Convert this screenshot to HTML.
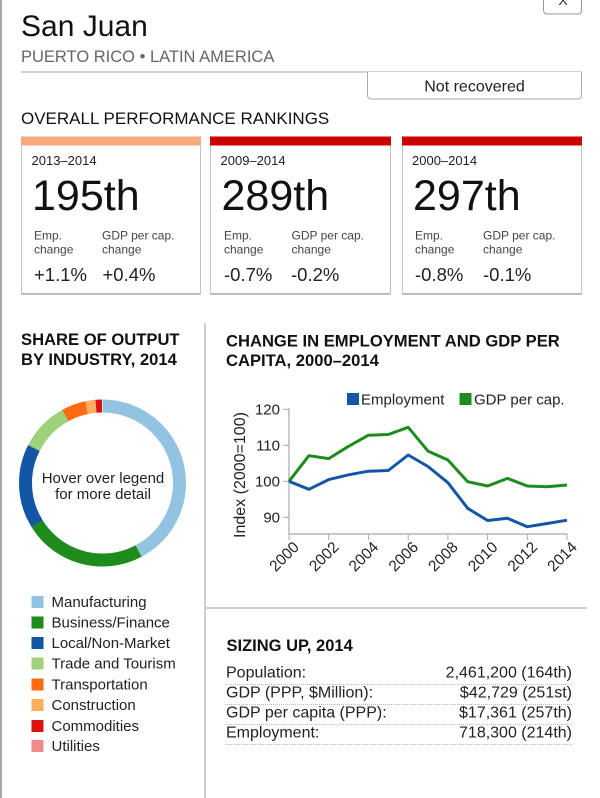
<!DOCTYPE html>
<html>
<head>
<meta charset="utf-8">
<style>
  html, body { margin:0; padding:0; background:#fff; }
  body { width:600px; height:798px; overflow:hidden; }
  svg { display:block; font-family:"Liberation Sans", Arial, sans-serif; }
</style>
</head>
<body>
<svg width="600" height="798" viewBox="0 0 600 798" xmlns="http://www.w3.org/2000/svg">
  <rect x="0" y="0" width="600" height="798" fill="#fff"/>
  <!-- left border -->
  <rect x="0" y="0" width="2" height="798" fill="#a8a8a8"/>

  <!-- close button -->
  <path d="M543.5,-2 V10 Q543.5,14 547.5,14 H577.5 Q581.5,14 581.5,10 V-2" fill="#fff" stroke="#999" stroke-width="1"/>
  <text x="563" y="5" font-size="14" text-anchor="middle" fill="#333">X</text>

  <!-- Title -->
  <text x="21" y="36" font-size="30" fill="#111">San Juan</text>
  <text x="21" y="62" font-size="16.5" fill="#666">PUERTO RICO • LATIN AMERICA</text>
  <line x1="21" y1="72" x2="582" y2="72" stroke="#aaa" stroke-width="1"/>

  <!-- Not recovered -->
  <path d="M367.5,72 V95 Q367.5,99 371.5,99 H577.5 Q581.5,99 581.5,95 V72" fill="#fff" stroke="#aaa" stroke-width="1"/>
  <text x="474.5" y="91.5" font-size="16" text-anchor="middle" fill="#222">Not recovered</text>

  <text x="21" y="124" font-size="17" fill="#111">OVERALL PERFORMANCE RANKINGS</text>

  <!-- Box 1 -->
  <rect x="21.5" y="137.5" width="179" height="156" fill="#fff" stroke="#c4c4c4" stroke-width="1"/>
  <line x1="21.5" y1="294" x2="200.5" y2="294" stroke="#b0b0b0" stroke-width="1.5"/>
  <rect x="21" y="136.5" width="180" height="9" fill="#f9aa7c"/>
  <text x="31.5" y="165" font-size="13" fill="#222">2013–2014</text>
  <text x="32" y="210" font-size="43" fill="#111">195th</text>
  <text x="34" y="239.5" font-size="12" fill="#444">Emp.</text>
  <text x="34" y="253.5" font-size="12" fill="#444">change</text>
  <text x="102" y="239.5" font-size="12" fill="#444">GDP per cap.</text>
  <text x="102" y="253.5" font-size="12" fill="#444">change</text>
  <text x="34" y="281" font-size="18.5" fill="#222">+1.1%</text>
  <text x="102.5" y="281" font-size="18.5" fill="#222">+0.4%</text>

  <!-- Box 2 -->
  <rect x="210.5" y="137.5" width="180" height="156" fill="#fff" stroke="#c4c4c4" stroke-width="1"/>
  <line x1="210.5" y1="294" x2="390.5" y2="294" stroke="#b0b0b0" stroke-width="1.5"/>
  <rect x="210" y="136.5" width="181" height="9" fill="#cc0000"/>
  <text x="220.5" y="165" font-size="13" fill="#222">2009–2014</text>
  <text x="221.5" y="210" font-size="43" fill="#111">289th</text>
  <text x="224" y="239.5" font-size="12" fill="#444">Emp.</text>
  <text x="224" y="253.5" font-size="12" fill="#444">change</text>
  <text x="291.5" y="239.5" font-size="12" fill="#444">GDP per cap.</text>
  <text x="291.5" y="253.5" font-size="12" fill="#444">change</text>
  <text x="224" y="281" font-size="18.5" fill="#222">-0.7%</text>
  <text x="291" y="281" font-size="18.5" fill="#222">-0.2%</text>

  <!-- Box 3 -->
  <rect x="402.5" y="137.5" width="179" height="156" fill="#fff" stroke="#c4c4c4" stroke-width="1"/>
  <line x1="402.5" y1="294" x2="581.5" y2="294" stroke="#b0b0b0" stroke-width="1.5"/>
  <rect x="402" y="136.5" width="180" height="9" fill="#cc0000"/>
  <text x="412" y="165" font-size="13" fill="#222">2000–2014</text>
  <text x="413" y="210" font-size="43" fill="#111">297th</text>
  <text x="415" y="239.5" font-size="12" fill="#444">Emp.</text>
  <text x="415" y="253.5" font-size="12" fill="#444">change</text>
  <text x="483" y="239.5" font-size="12" fill="#444">GDP per cap.</text>
  <text x="483" y="253.5" font-size="12" fill="#444">change</text>
  <text x="415" y="281" font-size="18.5" fill="#222">-0.8%</text>
  <text x="483" y="281" font-size="18.5" fill="#222">-0.1%</text>

  <!-- vertical divider -->
  <line x1="205" y1="323" x2="205" y2="798" stroke="#cfcfcf" stroke-width="2"/>

  <!-- Share of output -->
  <text x="21" y="345" font-size="16.6" font-weight="bold" fill="#111">SHARE OF OUTPUT</text>
  <text x="21" y="365" font-size="16.6" font-weight="bold" fill="#111">BY INDUSTRY, 2014</text>

  <!-- Donut: C = 483.81 -->
  <g transform="rotate(-90 102.5 483)" fill="none" stroke-width="13">
    <circle cx="102.5" cy="483" r="77" stroke="#92c3e1" stroke-dasharray="204.3 483.81" stroke-dashoffset="0"/>
    <circle cx="102.5" cy="483" r="77" stroke="#1d8c1d" stroke-dasharray="115.6 483.81" stroke-dashoffset="-204.3"/>
    <circle cx="102.5" cy="483" r="77" stroke="#1456a6" stroke-dasharray="79.3 483.81" stroke-dashoffset="-319.8"/>
    <circle cx="102.5" cy="483" r="77" stroke="#9fd07c" stroke-dasharray="45.7 483.81" stroke-dashoffset="-399.1"/>
    <circle cx="102.5" cy="483" r="77" stroke="#ff6a12" stroke-dasharray="22.8 483.81" stroke-dashoffset="-444.8"/>
    <circle cx="102.5" cy="483" r="77" stroke="#ffad5e" stroke-dasharray="9.4 483.81" stroke-dashoffset="-467.7"/>
    <circle cx="102.5" cy="483" r="77" stroke="#dd1111" stroke-dasharray="6.0 483.81" stroke-dashoffset="-477.1"/>
  </g>
  <text x="103" y="483" font-size="15" text-anchor="middle" fill="#222">Hover over legend</text>
  <text x="103" y="499" font-size="15" text-anchor="middle" fill="#222">for more detail</text>

  <!-- Legend -->
  <g font-size="15" fill="#222">
    <rect x="31.5" y="596" width="12" height="12" fill="#92c3e1"/>
    <text x="51.5" y="607">Manufacturing</text>
    <rect x="31.5" y="616.5" width="12" height="12" fill="#1d8c1d"/>
    <text x="51.5" y="627.5">Business/Finance</text>
    <rect x="31.5" y="637" width="12" height="12" fill="#1456a6"/>
    <text x="51.5" y="648">Local/Non-Market</text>
    <rect x="31.5" y="657.5" width="12" height="12" fill="#9fd07c"/>
    <text x="51.5" y="668.5">Trade and Tourism</text>
    <rect x="31.5" y="678.5" width="12" height="12" fill="#ff6a12"/>
    <text x="51.5" y="689.5">Transportation</text>
    <rect x="31.5" y="699" width="12" height="12" fill="#ffad5e"/>
    <text x="51.5" y="710">Construction</text>
    <rect x="31.5" y="720" width="12" height="12" fill="#dd1111"/>
    <text x="51.5" y="731">Commodities</text>
    <rect x="31.5" y="740" width="12" height="12" fill="#f08a8c"/>
    <text x="51.5" y="751">Utilities</text>
  </g>

  <!-- Change chart -->
  <text x="226" y="346.5" font-size="16.6" font-weight="bold" fill="#111">CHANGE IN EMPLOYMENT AND GDP PER</text>
  <text x="226" y="366" font-size="16.6" font-weight="bold" fill="#111">CAPITA, 2000–2014</text>

  <rect x="347" y="393" width="12" height="12" fill="#1456a6"/>
  <text x="361" y="404.5" font-size="15" fill="#222">Employment</text>
  <rect x="459.5" y="393" width="12" height="12" fill="#1d8c1d"/>
  <text x="474" y="404.5" font-size="15" fill="#222">GDP per cap.</text>

  <text transform="translate(245 475) rotate(-90)" font-size="16" text-anchor="middle" fill="#222">Index (2000=100)</text>

  <!-- axes -->
  <line x1="289" y1="408" x2="289" y2="534" stroke="#aaa" stroke-width="1.2"/>
  <line x1="289" y1="534" x2="567.5" y2="534" stroke="#aaa" stroke-width="1.2"/>
  <g stroke="#aaa" stroke-width="1">
    <line x1="283" y1="409.3" x2="289" y2="409.3"/>
    <line x1="283" y1="445.3" x2="289" y2="445.3"/>
    <line x1="283" y1="481.3" x2="289" y2="481.3"/>
    <line x1="283" y1="517.3" x2="289" y2="517.3"/>
    <line x1="289" y1="534" x2="289" y2="540"/>
    <line x1="328.7" y1="534" x2="328.7" y2="540"/>
    <line x1="368.4" y1="534" x2="368.4" y2="540"/>
    <line x1="408.2" y1="534" x2="408.2" y2="540"/>
    <line x1="447.9" y1="534" x2="447.9" y2="540"/>
    <line x1="487.6" y1="534" x2="487.6" y2="540"/>
    <line x1="527.3" y1="534" x2="527.3" y2="540"/>
    <line x1="567" y1="534" x2="567" y2="540"/>
  </g>
  <g font-size="15" fill="#222" text-anchor="end">
    <text x="280" y="414.5">120</text>
    <text x="280" y="450.5">110</text>
    <text x="280" y="486.5">100</text>
    <text x="280" y="522.5">90</text>
  </g>
  <g font-size="15.5" fill="#222" text-anchor="end">
    <text transform="translate(300 548) rotate(-45)">2000</text>
    <text transform="translate(339.7 548) rotate(-45)">2002</text>
    <text transform="translate(379.4 548) rotate(-45)">2004</text>
    <text transform="translate(419.2 548) rotate(-45)">2006</text>
    <text transform="translate(458.9 548) rotate(-45)">2008</text>
    <text transform="translate(498.6 548) rotate(-45)">2010</text>
    <text transform="translate(538.3 548) rotate(-45)">2012</text>
    <text transform="translate(578 548) rotate(-45)">2014</text>
  </g>

  <!-- series: x=289+19.86*i, y=481.3-(v-100)*3.6 -->
  <polyline fill="none" stroke="#1d8c1d" stroke-width="3" stroke-linejoin="round"
    points="289,481.3 308.9,455.7 328.7,458.6 348.6,446.3 368.4,435.2 388.3,434.5 408.2,427.3 428,451.1 447.9,460 467.7,481.7 487.6,486 507.5,478.4 527.3,486 547.2,486.7 567,485"/>
  <polyline fill="none" stroke="#1456a6" stroke-width="3" stroke-linejoin="round"
    points="289,481.3 308.9,489.3 328.7,479.6 348.6,474.8 368.4,471.2 388.3,470.5 408.2,455 428,466.5 447.9,482.7 467.7,508.3 487.6,520.5 507.5,518.3 527.3,526.7 547.2,523.5 567,520.2"/>

  <!-- horizontal divider -->
  <line x1="206" y1="608" x2="587" y2="608" stroke="#cfcfcf" stroke-width="2"/>

  <!-- Sizing up -->
  <text x="226.5" y="651" font-size="16.5" font-weight="bold" fill="#111">SIZING UP, 2014</text>
  <g font-size="16" fill="#222">
    <text x="226" y="677.5">Population:</text>
    <text x="572" y="677.5" text-anchor="end">2,461,200 (164th)</text>
    <text x="226" y="697.5">GDP (PPP, $Million):</text>
    <text x="572" y="697.5" text-anchor="end">$42,729 (251st)</text>
    <text x="226" y="717.5">GDP per capita (PPP):</text>
    <text x="572" y="717.5" text-anchor="end">$17,361 (257th)</text>
    <text x="226" y="737.5">Employment:</text>
    <text x="572" y="737.5" text-anchor="end">718,300 (214th)</text>
  </g>
  <g stroke="#bbb" stroke-width="1" stroke-dasharray="1 1">
    <line x1="225" y1="684.5" x2="573" y2="684.5"/>
    <line x1="225" y1="704.5" x2="573" y2="704.5"/>
    <line x1="225" y1="724.5" x2="573" y2="724.5"/>
    <line x1="225" y1="744.5" x2="573" y2="744.5"/>
  </g>
</svg>
</body>
</html>
